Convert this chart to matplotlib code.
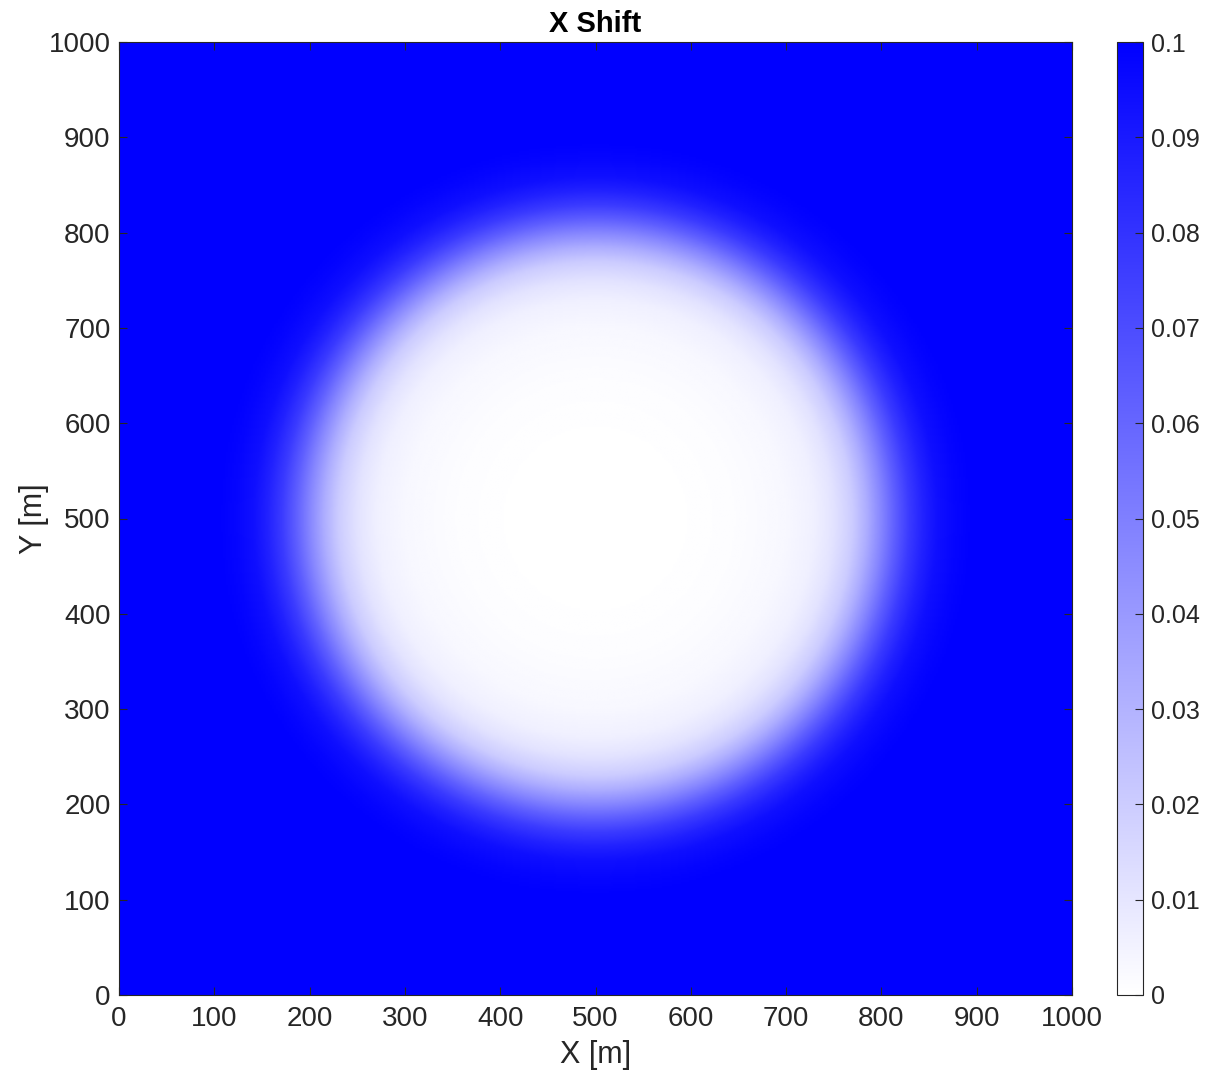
import numpy as np
import matplotlib
matplotlib.use("Agg")
from matplotlib import pyplot as plt
from matplotlib.colors import LinearSegmentedColormap

plt.rcParams["font.family"] = ["Liberation Sans", "DejaVu Sans"]

# radial profile of the shift field
center_x = 500.0
center_y = 500.0
profile_r = [0, 100, 150, 200, 230, 250, 270, 285, 300, 315, 330, 345, 360, 380, 400, 500, 800]
profile_v = [0.0, 0.0004, 0.0012, 0.003, 0.006, 0.011, 0.02, 0.032, 0.047, 0.063, 0.077, 0.087, 0.094, 0.098, 0.1, 0.1, 0.1]

x_ticks = [0, 100, 200, 300, 400, 500, 600, 700, 800, 900, 1000]
y_ticks = [0, 100, 200, 300, 400, 500, 600, 700, 800, 900, 1000]
cbar_ticks = [0, 0.01, 0.02, 0.03, 0.04, 0.05, 0.06, 0.07, 0.08, 0.09, 0.1]
cbar_labels = ["0", "0.01", "0.02", "0.03", "0.04", "0.05", "0.06", "0.07", "0.08", "0.09", "0.1"]

xs = np.linspace(0, 1000, 501)
ys = np.linspace(0, 1000, 501)
gx, gy = np.meshgrid(xs, ys)
rr = np.hypot(gx - center_x, gy - center_y)
field = np.interp(rr, profile_r, profile_v)

cmap = LinearSegmentedColormap.from_list("white_blue", [(1, 1, 1), (0, 0, 1)])
txt = (0.15, 0.15, 0.15)

fig = plt.figure(figsize=(12.07, 10.8), dpi=100)
ax = fig.add_axes([119 / 1207, 85 / 1080, 953 / 1207, 953 / 1080])
cax = fig.add_axes([1117 / 1207, 85 / 1080, 26 / 1207, 953 / 1080])

im = ax.imshow(field, extent=[0, 1000, 0, 1000], origin="lower", cmap=cmap,
               vmin=0, vmax=0.1, interpolation="bilinear", aspect="auto")
ax.set_xlim(0, 1000)
ax.set_ylim(0, 1000)
ax.set_xticks(x_ticks)
ax.set_yticks(y_ticks)
ax.tick_params(direction="in", top=True, right=True, length=6, width=0.8,
               labelsize=20, colors=txt)
ax.tick_params(axis="x", pad=8)
ax.tick_params(axis="y", pad=6)
for s in ax.spines.values():
    s.set_color(txt)
    s.set_linewidth(0.8)
ax.set_xlabel("X [m]", fontsize=22, color=txt, labelpad=6)
ax.set_ylabel("Y [m]", fontsize=22, color=txt, labelpad=0)
ax.set_title("X Shift", fontsize=21, fontweight="bold", pad=7)

cb = fig.colorbar(im, cax=cax, ticks=cbar_ticks)
cb.ax.set_yticklabels(cbar_labels)
cb.ax.tick_params(direction="in", length=6, width=0.8, labelsize=18, colors=txt, pad=6)
cb.outline.set_edgecolor(txt)
cb.outline.set_linewidth(0.8)

fig.savefig("out.png", dpi=100)
